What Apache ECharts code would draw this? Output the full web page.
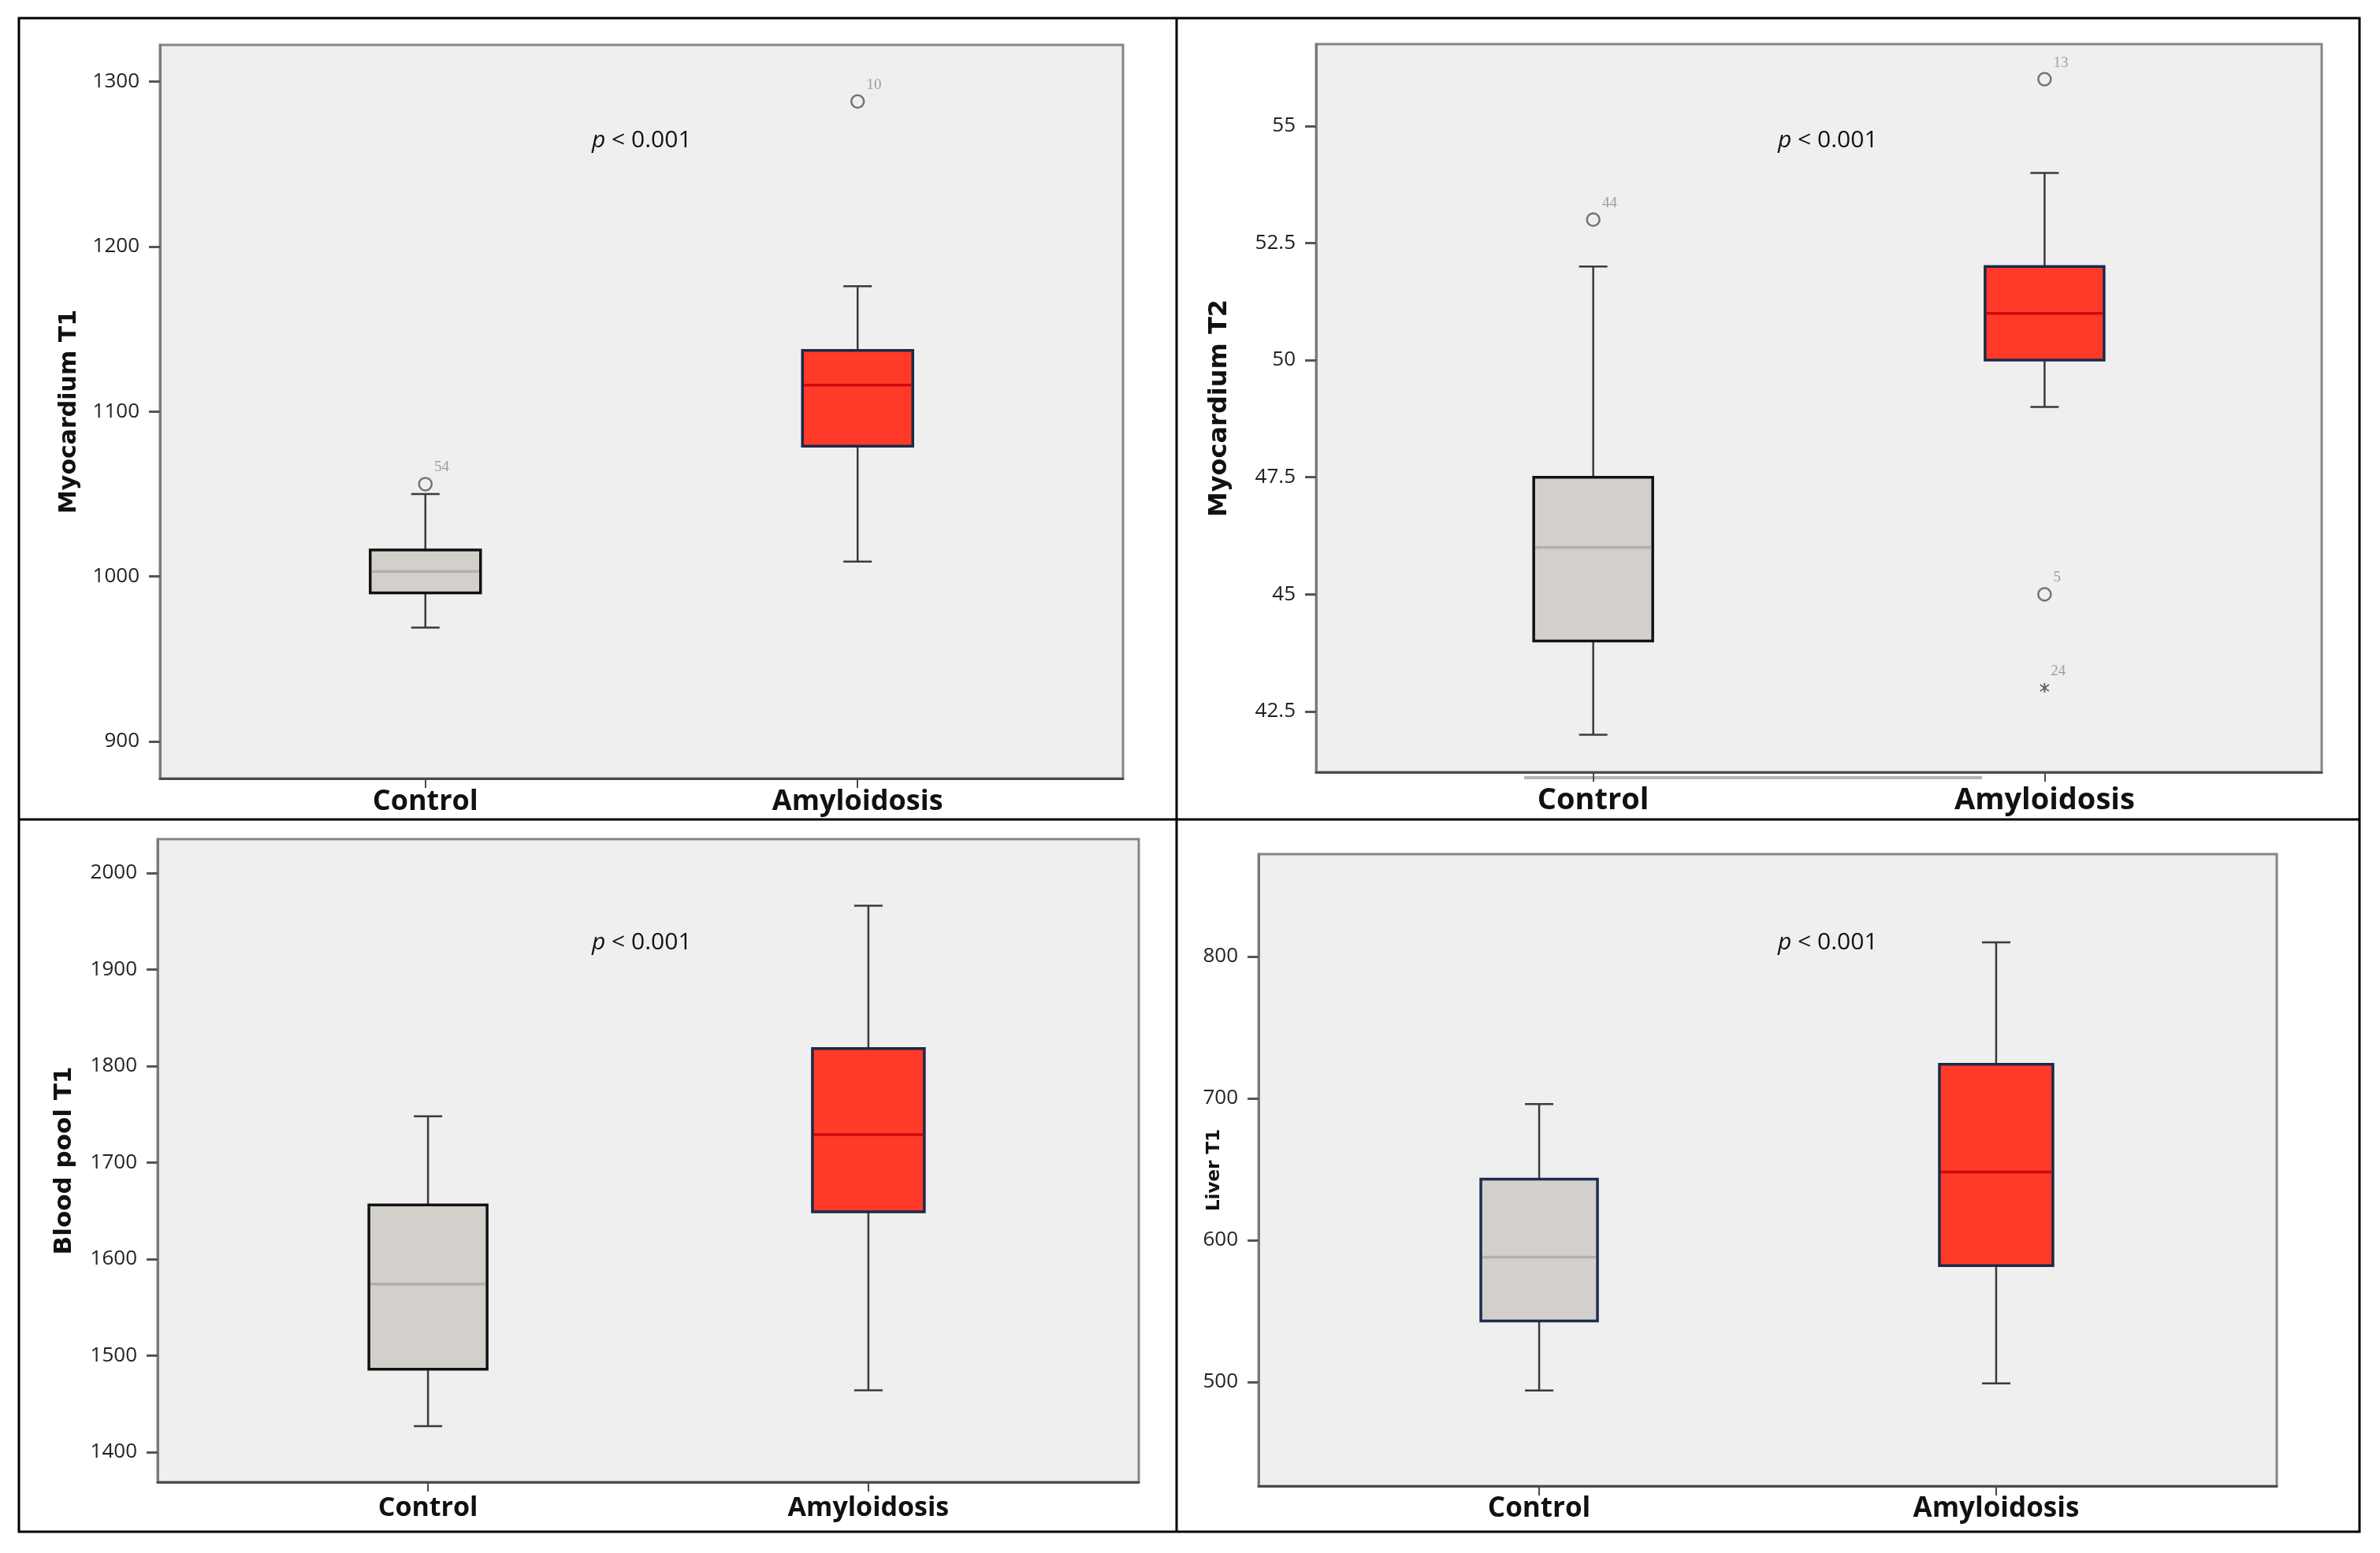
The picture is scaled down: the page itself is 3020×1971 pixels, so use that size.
<!DOCTYPE html>
<html>
<head>
    <meta charset="utf-8">
    <title>T1 / T2 box plots</title>
    <script src="https://cdn.jsdelivr.net/npm/echarts@6/dist/echarts.min.js"></script>
    <style>
        body { margin: 0; background: #fff; }
    </style>
</head>
<body>
    <div id="chart" style="width: 3020px; height: 1971px;"></div>

    <script>
    // groups on the x axis
    const categories = ['Control', 'Amyloidosis'];

    // each box: [low whisker, Q1, median, Q3, high whisker]
    const myoT1Control = [969, 990, 1003, 1016, 1050];
    const myoT1Amyloid = [1009, 1079, 1116, 1137, 1176];
    const myoT1Outliers = [[0, 1056, '54'], [1, 1288, '10']];
    const myoT1Ticks = [900, 1000, 1100, 1200, 1300];

    const myoT2Control = [42, 44, 46, 47.5, 52];
    const myoT2Amyloid = [49, 50, 51, 52, 54];
    const myoT2Outliers = [[0, 53, '44'], [1, 56, '13'], [1, 45, '5']];
    const myoT2Extremes = [[1, 43, '24']];
    const myoT2Ticks = [42.5, 45, 47.5, 50, 52.5, 55];

    const bloodT1Control = [1427, 1486, 1574, 1656, 1748];
    const bloodT1Amyloid = [1464, 1649, 1729, 1818, 1966];
    const bloodT1Ticks = [1400, 1500, 1600, 1700, 1800, 1900, 2000];

    const liverT1Control = [494, 543, 588, 643, 696];
    const liverT1Amyloid = [499, 582, 648, 724, 810];
    const liverT1Ticks = [500, 600, 700, 800];

    const pText = '{i|p} < 0.001';

    // panel layout (pixels) and axis ranges
    const panels = [
        { name: 'Myocardium T1', ctrl: myoT1Control, amy: myoT1Amyloid, outliers: myoT1Outliers, extremes: [],
          ticks: myoT1Ticks, min: 877.5, max: 1322.3,
          box: [203, 57, 1222, 931], widths: [140, 140], ctrlBorder: '#111',
          nameSize: 30, nameGap: 100, catSize: 36, catMargin: 12, p: [751, 163] },
        { name: 'Myocardium T2', ctrl: myoT2Control, amy: myoT2Amyloid, outliers: myoT2Outliers, extremes: myoT2Extremes,
          ticks: myoT2Ticks, min: 41.2, max: 56.75,
          box: [1670, 56, 1276, 924], widths: [151, 151], ctrlBorder: '#111',
          nameSize: 32, nameGap: 106, catSize: 38, catMargin: 17, p: [2256, 163] },
        { name: 'Blood pool T1', ctrl: bloodT1Control, amy: bloodT1Amyloid, outliers: [], extremes: [],
          ticks: bloodT1Ticks, min: 1369, max: 2035,
          box: [200, 1065, 1245, 816], widths: [150, 142], ctrlBorder: '#111',
          nameSize: 31, nameGap: 103, catSize: 34, catMargin: 16, p: [751, 1181] },
        { name: 'Liver T1', ctrl: liverT1Control, amy: liverT1Amyloid, outliers: [], extremes: [],
          ticks: liverT1Ticks, min: 426.6, max: 872.2,
          box: [1597, 1084, 1292, 802], widths: [148, 144], ctrlBorder: '#1d2d50',
          nameSize: 23, nameGap: 44, catSize: 35, catMargin: 12, p: [2256, 1181] }
    ];

    const asterisk = 'path://M4.3 0L5.7 0L5.7 10L4.3 10Z M0.3 2.2L1 1L9.7 7.8L9 9Z M9 1L9.7 2.2L1 9L0.3 7.8Z';

    const boxFill = ['#d3d0cb', '#ff3a29'];
    const medianColor = ['#b3afab', '#cc0a0a'];
    const amyBorder = '#1b2a4a';
    const whiskerColor = '#3a3a3a';

    function makeRender(panel) {
        return function (params, api) {
            const i = params.dataIndex;
            const x = api.value(0);
            const lo = api.coord([x, api.value(1)]);
            const q1 = api.coord([x, api.value(2)]);
            const md = api.coord([x, api.value(3)]);
            const q3 = api.coord([x, api.value(4)]);
            const hi = api.coord([x, api.value(5)]);
            const cx = lo[0];
            const w = panel.widths[i];
            const cap = 18;
            const wStyle = { stroke: whiskerColor, lineWidth: 2.5 };
            return {
                type: 'group',
                children: [
                    { type: 'line', shape: { x1: cx, y1: hi[1], x2: cx, y2: q3[1] }, style: wStyle },
                    { type: 'line', shape: { x1: cx, y1: q1[1], x2: cx, y2: lo[1] }, style: wStyle },
                    { type: 'line', shape: { x1: cx - cap, y1: hi[1], x2: cx + cap, y2: hi[1] }, style: wStyle },
                    { type: 'line', shape: { x1: cx - cap, y1: lo[1], x2: cx + cap, y2: lo[1] }, style: wStyle },
                    { type: 'rect', shape: { x: cx - w / 2, y: q3[1], width: w, height: q1[1] - q3[1] },
                      style: { fill: boxFill[i], stroke: i === 0 ? panel.ctrlBorder : amyBorder, lineWidth: 3.5 } },
                    { type: 'line', shape: { x1: cx - w / 2 + 2, y1: md[1], x2: cx + w / 2 - 2, y2: md[1] },
                      style: { stroke: medianColor[i], lineWidth: 3.5 } }
                ]
            };
        };
    }

    const grid = [], xAxis = [], yAxis = [], series = [], graphic = [];

    panels.forEach(function (p, k) {
        grid.push({
            left: p.box[0], top: p.box[1], width: p.box[2], height: p.box[3],
            show: true, backgroundColor: '#efefef', borderColor: '#858585', borderWidth: 3
        });
        xAxis.push({
            type: 'value', gridIndex: k, min: -0.614, max: 1.614,
            splitLine: { show: false },
            axisLine: { show: true, onZero: false, lineStyle: { color: '#4a4a4a', width: 3 } },
            axisTick: { show: true, customValues: [0, 1], length: 12, lineStyle: { color: '#4a4a4a', width: 2 } },
            axisLabel: {
                customValues: [0, 1], margin: p.catMargin,
                formatter: function (v) { return categories[Math.round(v)]; },
                fontFamily: 'Open Sans', fontWeight: 'bold', fontSize: p.catSize, color: '#111'
            }
        });
        yAxis.push({
            type: 'value', gridIndex: k, min: p.min, max: p.max,
            splitLine: { show: false },
            name: p.name, nameLocation: 'middle', nameRotate: 90, nameGap: p.nameGap,
            nameMoveOverlap: false,
            nameTextStyle: { fontFamily: 'DejaVu Sans', fontWeight: 'bold', fontSize: p.nameSize, color: '#111' },
            axisLine: { show: true, onZero: false, lineStyle: { color: '#7a7a7a', width: 3 } },
            axisTick: { show: true, customValues: p.ticks, length: 14, lineStyle: { color: '#555', width: 3 } },
            axisLabel: {
                customValues: p.ticks, margin: 26,
                formatter: function (v) { return String(v); },
                fontFamily: 'Open Sans', fontSize: 26, color: '#222'
            }
        });
        series.push({
            type: 'custom', xAxisIndex: k, yAxisIndex: k,
            renderItem: makeRender(p),
            encode: { x: 0, y: [1, 2, 3, 4, 5] },
            data: [[0].concat(p.ctrl), [1].concat(p.amy)],
            silent: true
        });
        const pts = p.outliers.map(function (o) { return { value: o }; })
            .concat(p.extremes.map(function (o) {
                return { value: o, symbol: asterisk, symbolSize: 12,
                         itemStyle: { color: '#333', borderWidth: 0 } };
            }));
        if (pts.length) {
            series.push({
                type: 'scatter', xAxisIndex: k, yAxisIndex: k,
                symbol: 'circle', symbolSize: 16,
                itemStyle: { color: 'rgba(0,0,0,0)', borderColor: '#555', borderWidth: 2.5 },
                label: {
                    show: true, position: 'right', distance: 2, offset: [0, -21],
                    formatter: function (q) { return q.value[2]; },
                    fontFamily: 'Liberation Serif', fontSize: 19, color: '#8a8a8a'
                },
                data: pts,
                silent: true
            });
        }
        graphic.push({
            type: 'text', left: p.p[0], top: p.p[1],
            style: {
                text: pText, fontFamily: 'Open Sans', fontSize: 30, fill: '#111',
                rich: { i: { fontStyle: 'italic', fontFamily: 'Open Sans', fontSize: 30, fill: '#111' } }
            }
        });
    });

    // figure frame and panel dividers
    graphic.push(
        { type: 'rect', shape: { x: 24, y: 23, width: 2970, height: 1921 },
          style: { fill: 'none', stroke: '#000', lineWidth: 3 } },
        { type: 'line', shape: { x1: 1493, y1: 23, x2: 1493, y2: 1944 }, style: { stroke: '#000', lineWidth: 3 } },
        { type: 'line', shape: { x1: 24, y1: 1040, x2: 2994, y2: 1040 }, style: { stroke: '#000', lineWidth: 3 } },
        { type: 'line', shape: { x1: 1934, y1: 987, x2: 2515, y2: 987 }, style: { stroke: '#b4b4b4', lineWidth: 4 } }
    );

    const chart = echarts.init(document.getElementById('chart'));
    chart.setOption({
        animation: false,
        backgroundColor: '#fff',
        grid: grid,
        xAxis: xAxis,
        yAxis: yAxis,
        series: series,
        graphic: graphic
    });
    </script>
</body>
</html>
